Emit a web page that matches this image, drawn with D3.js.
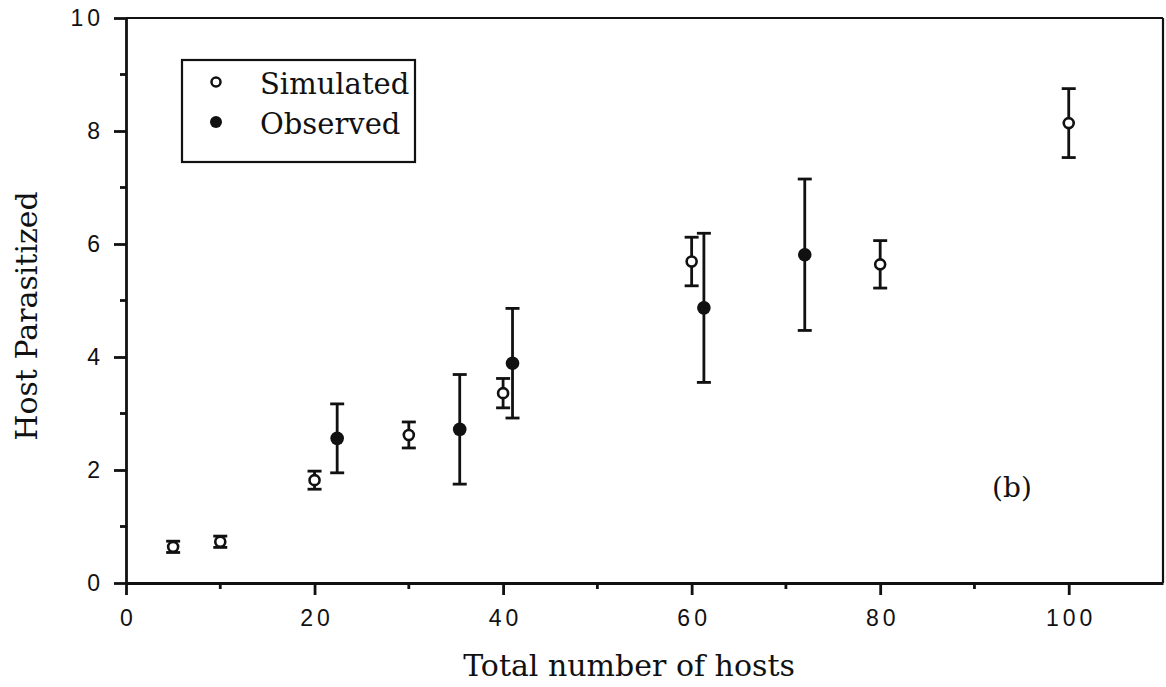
<!DOCTYPE html>
<html>
<head>
<meta charset="utf-8">
<script src="https://cdn.jsdelivr.net/npm/d3@7"></script>
<style>
    body { margin: 0; background: #fff; }
    .tick-label { font-family: 'Liberation Sans', Arial, sans-serif; font-size: 23px; letter-spacing: 4px; fill: #111; }
    .serif { font-family: 'DejaVu Serif', serif; fill: #111; }
</style>
</head>
<body>
<div id="chartDiv"></div>
<script>
// Simulated series (open circles)
const simX = [5, 10, 20, 30, 40, 60, 80, 100];
const simY = [0.64, 0.73, 1.82, 2.62, 3.36, 5.69, 5.64, 8.14];
const simErr = [0.1, 0.1, 0.16, 0.23, 0.26, 0.43, 0.42, 0.61];

// Observed series (filled circles)
const obsX = [22.4, 35.4, 41, 61.3, 72];
const obsY = [2.56, 2.72, 3.89, 4.87, 5.81];
const obsErr = [0.61, 0.97, 0.97, 1.32, 1.34];

const xTicks = [0, 20, 40, 60, 80, 100];
const xMinor = [10, 30, 50, 70, 90];
const yTicks = [0, 2, 4, 6, 8, 10];
const yMinor = [1, 3, 5, 7, 9];

const margin = { top: 18, right: 3, bottom: 104, left: 126 };
const width = 1166 - margin.left - margin.right;
const height = 687 - margin.top - margin.bottom;

let svg = d3.select('#chartDiv')
    .append('svg')
    .attr('width', 1166)
    .attr('height', 687);

let g = svg.append('g')
    .attr('transform', `translate(${margin.left},${margin.top})`);

let xScale = d3.scaleLinear().domain([0, 110]).range([0, width]);
let yScale = d3.scaleLinear().domain([0, 10]).range([height, 0]);

//frame: top and right edges
g.append('line')
    .attr('x1', 0).attr('x2', width).attr('y1', 0).attr('y2', 0)
    .attr('stroke', '#111').attr('stroke-width', 2.2);
g.append('line')
    .attr('x1', width).attr('x2', width).attr('y1', 0).attr('y2', height)
    .attr('stroke', '#111').attr('stroke-width', 2.2);

//axes
let xAxis = d3.axisBottom(xScale).tickValues(xTicks).tickSize(12).tickPadding(15).tickSizeOuter(0);
let yAxis = d3.axisLeft(yScale).tickValues(yTicks).tickSize(12).tickPadding(10).tickSizeOuter(0);

let xg = g.append('g').attr('transform', `translate(0,${height})`).call(xAxis);
let yg = g.append('g').call(yAxis);

[xg, yg].forEach(a => {
    a.select('.domain').attr('stroke', '#111').attr('stroke-width', 2.8);
    a.selectAll('.tick line').attr('stroke', '#111').attr('stroke-width', 2.8);
    a.selectAll('.tick text').attr('class', 'tick-label').attr('fill', null);
});
xg.selectAll('.tick text').attr('dx', '2px');

//minor ticks
g.append('g').selectAll('line').data(xMinor).enter().append('line')
    .attr('x1', d => xScale(d)).attr('x2', d => xScale(d))
    .attr('y1', height).attr('y2', height + 6)
    .attr('stroke', '#111').attr('stroke-width', 2.8);
g.append('g').selectAll('line').data(yMinor).enter().append('line')
    .attr('x1', 0).attr('x2', -6)
    .attr('y1', d => yScale(d)).attr('y2', d => yScale(d))
    .attr('stroke', '#111').attr('stroke-width', 2.8);

//axis labels
svg.append('text')
    .classed('serif', true)
    .attr('x', 629).attr('y', 676)
    .attr('text-anchor', 'middle')
    .style('font-size', '30px')
    .text('Total number of hosts');
svg.append('text')
    .classed('serif', true)
    .attr('transform', 'translate(37,316) rotate(-90)')
    .attr('text-anchor', 'middle')
    .style('font-size', '30px')
    .text('Host Parasitized');
svg.append('text')
    .classed('serif', true)
    .attr('x', 1012).attr('y', 497)
    .attr('text-anchor', 'middle')
    .style('font-size', '28px')
    .text('(b)');

//error bars + points
function drawSeries(xs, ys, errs, filled) {
    let data = xs.map((x, i) => ({ x: x, y: ys[i], e: errs[i] }));
    let grp = g.append('g');
    let bars = grp.selectAll('g.bar').data(data).enter().append('g').classed('bar', true);
    bars.append('line')
        .attr('x1', d => xScale(d.x)).attr('x2', d => xScale(d.x))
        .attr('y1', d => yScale(d.y - d.e)).attr('y2', d => yScale(d.y + d.e))
        .attr('stroke', '#111').attr('stroke-width', 2.8);
    [-1, 1].forEach(s => {
        bars.append('line')
            .attr('x1', d => xScale(d.x) - 7).attr('x2', d => xScale(d.x) + 7)
            .attr('y1', d => yScale(d.y + s * d.e)).attr('y2', d => yScale(d.y + s * d.e))
            .attr('stroke', '#111').attr('stroke-width', 2.8);
    });
    bars.append('circle')
        .attr('cx', d => xScale(d.x)).attr('cy', d => yScale(d.y))
        .attr('r', filled ? 6.8 : 5)
        .attr('fill', filled ? '#111' : '#fff')
        .attr('stroke', '#111').attr('stroke-width', filled ? 0 : 2.6);
}
drawSeries(simX, simY, simErr, false);
drawSeries(obsX, obsY, obsErr, true);

//legend
let legend = svg.append('g').attr('transform', 'translate(182,60)');
legend.append('rect')
    .attr('width', 233).attr('height', 102)
    .attr('fill', '#fff').attr('stroke', '#111').attr('stroke-width', 2.2);
let legendItems = [{ name: 'Simulated', filled: false }, { name: 'Observed', filled: true }];
let li = legend.selectAll('g.item').data(legendItems).enter().append('g')
    .classed('item', true)
    .attr('transform', (d, i) => `translate(34, ${22 + i * 40})`);
li.append('circle')
    .attr('r', d => d.filled ? 6 : 4.5)
    .attr('fill', d => d.filled ? '#111' : '#fff')
    .attr('stroke', '#111').attr('stroke-width', d => d.filled ? 0 : 2.5);
li.append('text')
    .classed('serif', true)
    .attr('x', 44).attr('y', 12)
    .style('font-size', '29px')
    .text(d => d.name);
</script>
</body>
</html>
